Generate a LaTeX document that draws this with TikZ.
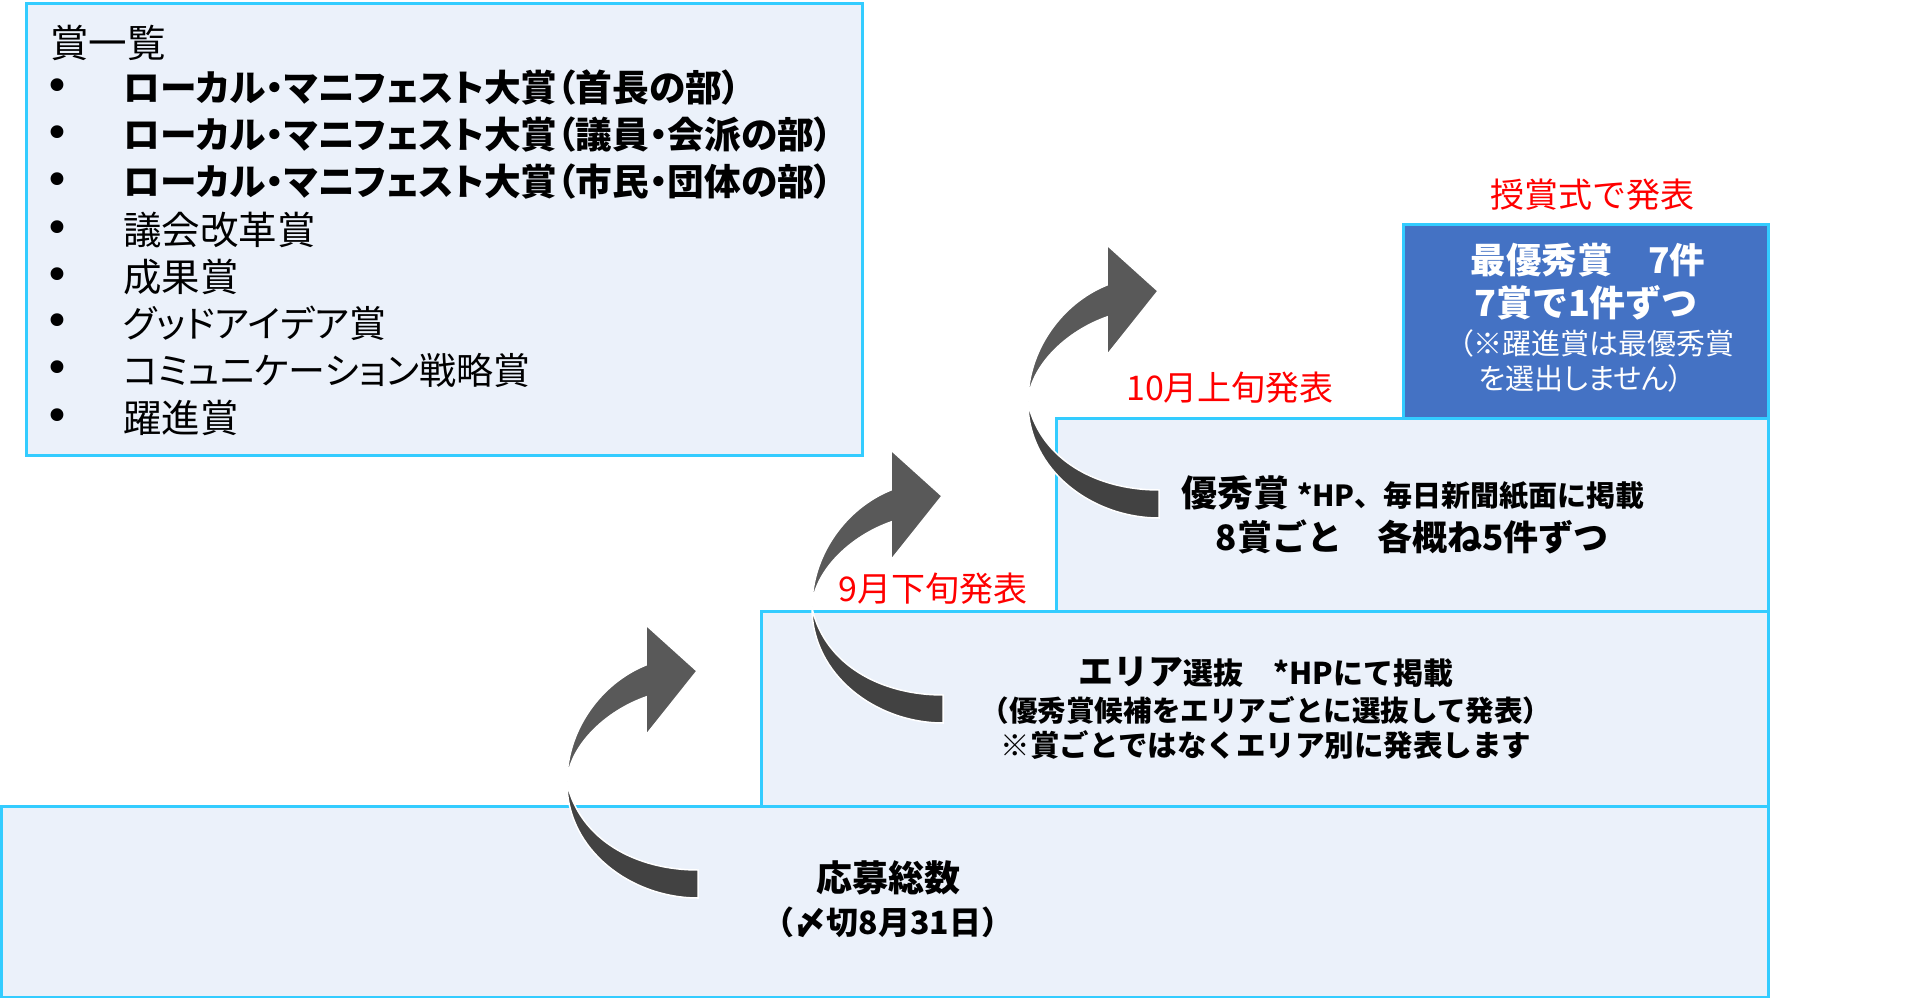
\documentclass[tikz,border=0pt]{standalone}
\usepackage{fontspec}
\setmainfont{Noto Sans CJK JP}
\newfontfamily\pfont{Noto Sans CJK JP}[RawFeature=+palt]
\newfontfamily\bulfont{DejaVu Sans}
\definecolor{edgecyan}{RGB}{51,204,255}
\definecolor{boxfill}{RGB}{235,241,250}
\definecolor{topblue}{RGB}{68,114,196}
\definecolor{arrup}{RGB}{89,89,89}
\definecolor{arrlow}{RGB}{66,66,66}
\definecolor{redlab}{RGB}{255,0,0}
\newcommand{\fsz}[1]{\fontsize{#1}{#1}\selectfont}
\begin{document}
\begin{tikzpicture}[x=1pt,y=-1pt,
  stepbox/.style={draw=edgecyan, line width=3pt, fill=boxfill, inner sep=0pt, anchor=north west},
  topbox/.style={draw=edgecyan, line width=3pt, fill=topblue, inner sep=0pt, anchor=north west},
  listtxt/.style={anchor=west, inner sep=0pt, font=\pfont\fsz{37}},
  listkanji/.style={anchor=west, inner sep=0pt, font=\pfont\fsz{38.5}},
  listbold/.style={anchor=west, inner sep=0pt, font=\pfont\fsz{36.7}\bfseries},
  bul/.style={inner sep=0pt, anchor=base, font=\bulfont\fsz{44}},
  redtxt/.style={inner sep=0pt, text=redlab, font=\fsz{34}},
  whitetxt/.style={inner sep=0pt, text=white},
  plain/.style={inner sep=0pt},
  arrpart/.style={draw=white, line width=1.5pt},
  curvarr/.pic={
    \path[arrpart, fill=arrlow] (-79,158) .. controls (-79,225) and (-15,273) .. (52,273)
      -- (52,245) .. controls (-10,245) and (-66,215) .. (-79,158) -- cycle;
    \path[arrpart, fill=arrup] (-79,156) .. controls (-79,105) and (-45,58) .. (0,40)
      -- (0,0) -- (51,46) -- (0,110) -- (0,72) .. controls (-40,86) and (-76,120) .. (-79,156) -- cycle;
  }]
\useasboundingbox (0,0) rectangle (1920,998);

% ---- list box ----
\node[stepbox, minimum width=836pt, minimum height=452pt] (list) at (25,2) {};
\node[listkanji] (t0) at (50,43) {賞一覧};
\foreach \yy/\nm in {88/b1,135/b2,182/b3,230/b4,277/b5,323/b6,370/b7,418/b8}
  \node[bul] (\nm) at (57,\yy+13) {•};
\node[listbold]  (i1) at (123,88)  {ローカル・マニフェスト大賞（首長の部）};
\node[listbold]  (i2) at (123,135) {ローカル・マニフェスト大賞（議員・会派の部）};
\node[listbold]  (i3) at (123,182) {ローカル・マニフェスト大賞（市民・団体の部）};
\node[listkanji] (i4) at (123,230) {議会改革賞};
\node[listkanji] (i5) at (123,277) {成果賞};
\node[listtxt]   (i6) at (123,323) {グッドアイデア賞};
\node[listtxt]   (i7) at (123,370) {コミュニケーション戦略賞};
\node[listkanji] (i8) at (123,418) {躍進賞};

% ---- steps ----
\node[stepbox, minimum width=1767pt, minimum height=191pt] (s1) at (0,805) {};
\node[stepbox, minimum width=1007pt, minimum height=195pt] (s2) at (760,610) {};
\node[stepbox, minimum width=712pt,  minimum height=193pt] (s3) at (1055,417) {};
\node[topbox,  minimum width=365pt,  minimum height=194pt] (s4) at (1402,223) {};

% ---- texts in steps ----
\node[plain, font=\fsz{36}\bfseries] (s1a) at (888,878) {応募総数};
\node[plain, font=\fsz{32}\bfseries] (s1b) at (888,922) {（〆切8月31日）};

\node[plain] (s2a) at (1266,672) {{\fsz{35}\bfseries エリア}{\fsz{30}\bfseries 選抜　*HPにて掲載}};
\node[plain, font=\fsz{28.6}\bfseries] (s2b) at (1266,710) {（優秀賞候補をエリアごとに選抜して発表）};
\node[plain, font=\fsz{29.5}\bfseries] (s2c) at (1266,745) {※賞ごとではなくエリア別に発表します};

\node[plain] (s3a) at (1413,493) {{\fsz{36}\bfseries 優秀賞}\hspace{8pt}{\fsz{29}\bfseries *HP、毎日新聞紙面に掲載}};
\node[plain, font=\fsz{35}\bfseries] (s3b) at (1412,537) {8賞ごと　各概ね5件ずつ};

\node[whitetxt, font=\fsz{35.5}\bfseries] (s4a) at (1588,260) {最優秀賞　7件};
\node[whitetxt, font=\fsz{36}\bfseries] (s4b) at (1586,303) {7賞で1件ずつ};
\node[whitetxt, font=\pfont\fsz{29}] (s4c) at (1597,343) {（※躍進賞は最優秀賞};
\node[whitetxt, font=\pfont\fsz{29}] (s4d) at (1581,378) {を選出しません）};

% ---- arrows ----
\pic (arr1) at (646,625) {curvarr};
\pic (arr2) at (891,450) {curvarr};
\pic (arr3) at (1107,245) {curvarr};

% ---- red labels ----
\node[redtxt] (r1) at (933,589) {9月下旬発表};
\node[redtxt] (r2) at (1230,388) {10月上旬発表};
\node[redtxt] (r3) at (1592,195) {授賞式で発表};
\end{tikzpicture}
\end{document}
